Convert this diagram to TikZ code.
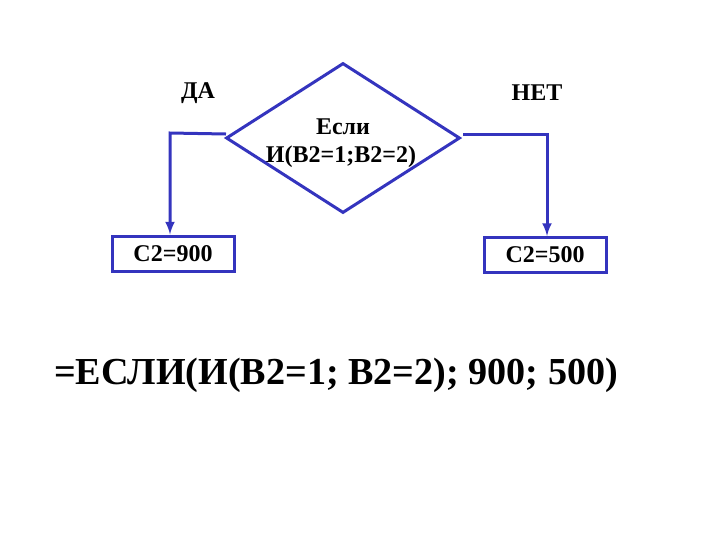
\documentclass[tikz,border=0pt]{standalone}
\usepackage{fontspec}
\setmainfont{Liberation Serif}
\usetikzlibrary{shapes.geometric,arrows}

\definecolor{flowblue}{RGB}{52,52,190}
\tikzset{every picture/.style={line width=0.75pt}}
\tikzset{
  flowline/.style={draw=flowblue, line width=2.25pt},
  resbox/.style={flowline, rectangle, inner sep=0pt, minimum width=91.5pt, minimum height=26.25pt, font=\fontsize{18}{20}\selectfont\bfseries},
  lbl/.style={inner sep=0.75pt, font=\fontsize{18}{20}\selectfont\bfseries}
}

\begin{document}
\begin{tikzpicture}[x=0.75pt,y=0.75pt,yscale=-1,xscale=1]
\useasboundingbox (0,0) rectangle (720,540);

%Shape: Diamond [id:dia]
\node (dia) at (343,138) [flowline, diamond, inner sep=0pt, minimum width=175.5pt, minimum height=112.5pt] {};
% Text Node
\node (cond1) at (343,127) [lbl] {Если};
% Text Node
\node (cond2) at (341,157) [lbl] {И(B2=1;B2=2)};

%Shape: Rectangle [id:c900]
\node (c900) at (173,253.5) [resbox] {C2=900};
%Shape: Rectangle [id:c500]
\node (c500) at (545,255) [resbox] {C2=500};

%Straight Lines [id:yes]
\coordinate (yesA) at (226,134);
\coordinate (yesB) at (170,133);
\draw [flowline, -latex] (yesA) -- (yesB) -- (yesB |- c900.north) ;
%Straight Lines [id:no]
\coordinate (noA) at (463,134);
\coordinate (noB) at (547,134);
\draw [flowline, -latex] (noA) -- (noB) -- (noB |- c500.north) ;

% Text Node
\node (da) at (198,93) [lbl] {ДА};
% Text Node
\node (net) at (537,93) [lbl] {НЕТ};
% Text Node
\node (formula) at (336,375) [inner sep=0.75pt, font=\fontsize{28.6}{32}\selectfont\bfseries] {=ЕСЛИ(И(В2=1; В2=2); 900; 500)};

\end{tikzpicture}
\end{document}
